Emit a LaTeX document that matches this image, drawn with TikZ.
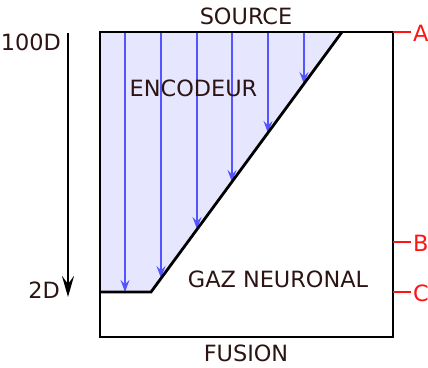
\documentclass[tikz,border=0pt]{standalone}
\usepackage{fontspec}
\setmainfont{DejaVu Sans}
\usetikzlibrary{arrows.meta}
\definecolor{txt}{RGB}{45,20,20}
\definecolor{encfill}{RGB}{230,230,255}
\definecolor{flowblue}{RGB}{85,85,255}
\definecolor{redmark}{RGB}{255,20,20}
\tikzset{
  x=1pt,y=-1pt,
  lbl/.style={font=\fontsize{22.4}{26}\selectfont,text=txt,inner sep=0pt},
  rlbl/.style={font=\fontsize{22.4}{26}\selectfont,text=redmark,inner sep=0pt,anchor=west},
  wall/.style={line width=2.8pt,black},
  flowarrow/.style={line width=1.5pt,draw=flowblue,-{Stealth[length=12pt,width=9pt,inset=4.5pt]}},
  ticker/.style={line width=2.8pt,draw=redmark},
}
\begin{document}
\begin{tikzpicture}
\useasboundingbox (0,0) rectangle (428,367);
% shaded encoder region
\coordinate (tl) at (100,32);
\coordinate (dtop) at (342,32);
\coordinate (dbot) at (151,292);
\coordinate (bl) at (100,292);
\fill[encfill] (tl) -- (dtop) -- (dbot) -- (bl) -- cycle;
% blue flow arrows
\foreach \n/\xx/\yy in {1/125/292,2/161/278,3/197/229,4/232/182,5/268/133,6/304/84}{
  \coordinate (s\n) at (\xx,32);
  \coordinate (e\n) at (\xx,\yy);
  \draw[flowarrow] (s\n) -- (e\n);
}
% outer box
\coordinate (tr) at (393,32);
\coordinate (br) at (393,337);
\coordinate (bbl) at (100,337);
\draw[wall] (tl) -- (tr) -- (br) -- (bbl) -- cycle;
\draw[wall] (dtop) -- (dbot) -- (bl);
% left depth arrow
\coordinate (la) at (68,33);
\coordinate (lb) at (68,297);
\draw[line width=2.8pt,-{Stealth[length=21pt,width=12pt,inset=8pt]}] (la) -- (lb);
\node[lbl,anchor=east] (d100) at (61,42) {100D};
\node[lbl,anchor=east] (d2) at (60,290) {2D};
% texts
\node[lbl] (src) at (246,16) {SOURCE};
\node[lbl] (fus) at (246,353) {FUSION};
\node[lbl] (enc) at (193.5,88) {ENCODEUR};
\node[lbl] (gaz) at (278,279) {GAZ NEURONAL};
% red ticks
\coordinate (ta) at (393,32);
\coordinate (tb) at (393,242);
\coordinate (tc) at (393,292);
\coordinate (ua) at (411,32);
\coordinate (ub) at (411,242);
\coordinate (uc) at (411,292);
\draw[ticker] (ta) -- (ua);
\draw[ticker] (tb) -- (ub);
\draw[ticker] (tc) -- (uc);
\node[rlbl] (A) at (413,33) {A};
\node[rlbl] (B) at (413,243) {B};
\node[rlbl] (C) at (413,293) {C};
\end{tikzpicture}
\end{document}
